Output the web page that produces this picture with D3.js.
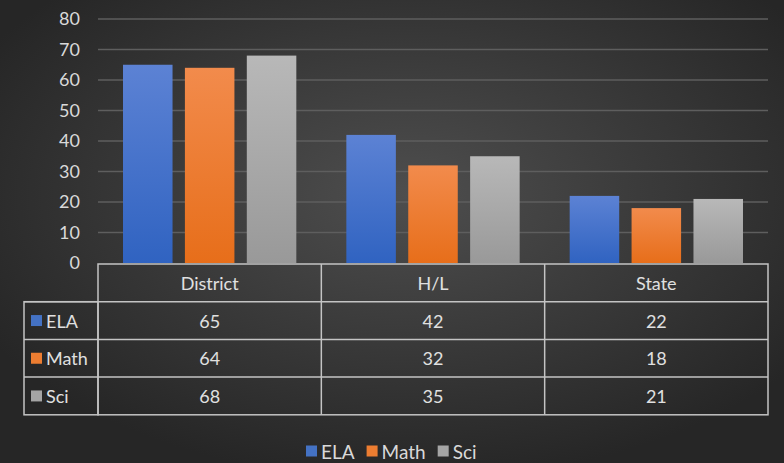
<!DOCTYPE html>
<html>
<head>
<meta charset="utf-8">
<script src="https://cdn.jsdelivr.net/npm/d3@7"></script>
<style>
  html, body { margin: 0; padding: 0; background: #2b2b2b; }
  svg { display: block; font-family: Lato, "Open Sans", sans-serif; }
</style>
</head>
<body>
<svg id="chart" width="784" height="463"></svg>
<script>
const categories = ['District', 'H/L', 'State'];
const series = ['ELA', 'Math', 'Sci'];
const ela = [65, 42, 22];
const math = [64, 32, 18];
const sci = [68, 35, 21];
const yTicks = [0, 10, 20, 30, 40, 50, 60, 70, 80];

const values = [ela, math, sci];
const colors = {
  ELA: ['#5c82d4', '#3063c1'],
  Math: ['#f28b4c', '#e76e1a'],
  Sci: ['#b8b8b8', '#999999'],
};
const swatch = { ELA: '#4472c4', Math: '#ed7d31', Sci: '#a5a5a5' };

const W = 784, H = 463;
const plot = { left: 98, right: 768, top: 19, bottom: 264 };
const rowH = 37.7;
const legendLeft = 24;
const fontSize = 18;

const svg = d3.select('#chart');
const defs = svg.append('defs');

// background
const bg = defs.append('radialGradient')
  .attr('id', 'bg')
  .attr('cx', '52%').attr('cy', '42%').attr('r', '62%');
bg.append('stop').attr('offset', '0%').attr('stop-color', '#4e4e4e');
bg.append('stop').attr('offset', '100%').attr('stop-color', '#262626');
svg.append('rect').attr('width', W).attr('height', H).attr('fill', 'url(#bg)');

// bar gradients
series.forEach(s => {
  const g = defs.append('linearGradient')
    .attr('id', `grad-${s}`)
    .attr('x1', 0).attr('y1', 0).attr('x2', 0).attr('y2', 1);
  g.append('stop').attr('offset', '0%').attr('stop-color', colors[s][0]);
  g.append('stop').attr('offset', '100%').attr('stop-color', colors[s][1]);
});

const x = d3.scaleBand()
  .domain(categories)
  .range([plot.left, plot.right]);

const xSub = d3.scaleBand()
  .domain(series)
  .range([x.bandwidth() * 0.112, x.bandwidth() * 0.888])
  .paddingInner(0.2);

const y = d3.scaleLinear()
  .domain([0, 80])
  .range([plot.bottom - 1, plot.top]);

// gridlines
svg.append('g')
  .attr('class', 'grid')
  .selectAll('line')
  .data(yTicks.filter(d => d > 0))
  .join('line')
  .attr('x1', plot.left).attr('x2', plot.right)
  .attr('y1', d => y(d)).attr('y2', d => y(d))
  .attr('stroke', '#5e5e5e')
  .attr('stroke-width', 1.5);

// y axis labels
const yAxis = svg.append('g')
  .attr('transform', `translate(${plot.left - 18},0)`)
  .call(d3.axisLeft(y).tickValues(yTicks).tickSize(0).tickPadding(0));
yAxis.select('.domain').remove();
yAxis.selectAll('text')
  .attr('fill', '#d9d9d9')
  .attr('font-size', fontSize)
  .style('font-family', 'Lato, "Open Sans", sans-serif');

// bars
const rows = series.map((s, i) => ({ key: s, values: values[i] }));
svg.append('g')
  .selectAll('g')
  .data(rows)
  .join('g')
  .attr('fill', d => `url(#grad-${d.key})`)
  .selectAll('rect')
  .data(d => d.values.map((v, j) => ({ key: d.key, cat: categories[j], v })))
  .join('rect')
  .attr('x', d => x(d.cat) + xSub(d.key))
  .attr('width', xSub.bandwidth())
  .attr('y', d => y(d.v))
  .attr('height', d => y(0) - y(d.v));

// data table
const table = svg.append('g')
  .attr('fill', 'none')
  .attr('stroke', '#c4c4c4')
  .attr('stroke-width', 1.5);

const tTop = plot.bottom;
const tBottom = tTop + rowH * 4;

// header + body outline on the plot width
table.append('rect')
  .attr('x', plot.left).attr('y', tTop)
  .attr('width', plot.right - plot.left).attr('height', rowH * 4);
// legend column
table.append('rect')
  .attr('x', legendLeft).attr('y', tTop + rowH)
  .attr('width', plot.left - legendLeft).attr('height', rowH * 3);
// row lines
[1, 2, 3].forEach(i => {
  table.append('line')
    .attr('x1', legendLeft).attr('x2', plot.right)
    .attr('y1', tTop + rowH * i).attr('y2', tTop + rowH * i);
});
// column lines
categories.slice(1).forEach(c => {
  table.append('line')
    .attr('x1', x(c)).attr('x2', x(c))
    .attr('y1', tTop).attr('y2', tBottom);
});

const textG = svg.append('g')
  .attr('fill', '#e0e0e0')
  .attr('font-size', fontSize)
  .attr('dominant-baseline', 'central');

textG.selectAll('.hdr')
  .data(categories)
  .join('text')
  .attr('class', 'hdr')
  .attr('x', d => x(d) + x.bandwidth() / 2)
  .attr('y', tTop + rowH / 2)
  .attr('text-anchor', 'middle')
  .text(d => d);

rows.forEach((r, i) => {
  const cy = tTop + rowH * (i + 1) + rowH / 2;
  textG.append('rect')
    .attr('x', legendLeft + 7).attr('y', cy - 5.5)
    .attr('width', 11).attr('height', 11)
    .attr('fill', swatch[r.key]);
  textG.append('text')
    .attr('x', legendLeft + 22).attr('y', cy)
    .text(r.key);
  textG.selectAll(null)
    .data(r.values)
    .join('text')
    .attr('x', (d, j) => x(categories[j]) + x.bandwidth() / 2)
    .attr('y', cy)
    .attr('text-anchor', 'middle')
    .text(d => d);
});

// bottom legend
const legend = svg.append('g')
  .attr('font-size', 19)
  .attr('fill', '#d9d9d9');
let lx = 306;
const ly = 451;
series.forEach(s => {
  legend.append('rect')
    .attr('x', lx).attr('y', ly - 5.5)
    .attr('width', 11).attr('height', 11)
    .attr('fill', swatch[s]);
  const t = legend.append('text')
    .attr('x', lx + 15).attr('y', ly)
    .attr('dominant-baseline', 'central')
    .text(s);
  lx += 15 + t.node().getComputedTextLength() + 12;
});
</script>
</body>
</html>
